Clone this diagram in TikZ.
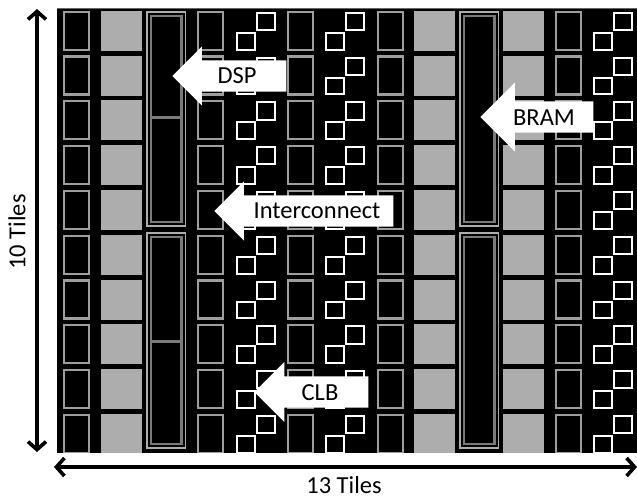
\documentclass[tikz,border=0pt]{standalone}
\usepackage{fontspec}
\setmainfont{Carlito}
\usetikzlibrary{arrows.meta,shapes.arrows}
\tikzset{
  outlinetile/.style={draw=black!38,line width=2.3pt},
  ramtile/.style={fill=black!32},
  switchtile/.style={draw=white,line width=2pt},
  blockout/.style={draw=black!32,line width=1.7pt},
  blockin/.style={draw=black!52,line width=2.2pt},
  blockarrow/.style={single arrow,shape border rotate=180,fill=white,inner sep=0pt,
    text height=31pt,single arrow head extend=14pt,anchor=tip},
  dimarrow/.style={line width=3.6pt,{Straight Barb[length=8pt,width=18pt]}-{Straight Barb[length=8pt,width=18pt]}},
  tilelabel/.style={inner sep=0pt,font=\fontsize{24.5}{27}\selectfont}
}
\begin{document}
\begin{tikzpicture}[x=1pt,y=-1pt]
  \useasboundingbox (0,0) rectangle (637,498);
  \fill[black!60] (56.5,8) rectangle (637,9);
  \fill[black] (56.5,9) rectangle (637,453);
  \foreach \r in {0,...,9}{
     \pgfmathsetmacro{\y}{10.7+44.8*\r}
     % outlined columns
     \foreach \x in {64,198,288,378,556}
        \draw[outlinetile] (\x,\y+1) rectangle (\x+25,\y+39);
     % filled columns
     \foreach \x in {101,414,503}
        \fill[ramtile] (\x,\y) rectangle (\x+40.5,\y+40);
     % pairs of small squares
     \foreach \x in {237,326,594}{
        \draw[switchtile] (\x,\y+22) rectangle (\x+17.5,\y+38.8);
        \draw[switchtile] (\x+20,\y+2) rectangle (\x+37.5,\y+19.3);}
  }
  \fill[white] (56.5,453) rectangle (637,458);
  % tall blocks
  \foreach \x in {146,459}{
     \foreach \a/\b in {12/226,233/448}{
        \draw[blockout] (\x+.8,\a) rectangle (\x+39.5,\b);
        \draw[blockin] (\x+5,\a+4) rectangle (\x+35.5,\b-4);}
  }
  \foreach \m in {117,341}
     \draw[blockin,line width=3pt] (151,\m) -- (181.5,\m);
  % labels on top
  \node[blockarrow,minimum height=114pt,minimum width=58pt] (dsparrow) at (172,76) {};
  \node[blockarrow,minimum height=179pt,minimum width=58pt] (intarrow) at (214,211) {};
  \node[blockarrow,minimum height=113pt,minimum width=69pt,single arrow head extend=19pt] (bramarrow) at (480,117) {};
  \node[blockarrow,minimum height=114pt,minimum width=60pt,text height=30pt] (clbarrow) at (254,392) {};
  \node[tilelabel] (dsplabel) at (237,76) {DSP};
  \node[tilelabel] (intlabel) at (317,211) {Interconnect};
  \node[tilelabel] (bramlabel) at (544,118) {BRAM};
  \node[tilelabel] (clblabel) at (320,392.5) {CLB};
  % tile counts
  \coordinate (vtop) at (37,9);
  \coordinate (vbot) at (37,452);
  \coordinate (hleft) at (54,467);
  \coordinate (hright) at (637,467);
  \draw[dimarrow] (vtop) -- (vbot);
  \draw[dimarrow] (hleft) -- (hright);
  \node[tilelabel,rotate=90] (rowcount) at (17,232) {10 Tiles};
  \node[tilelabel] (colcount) at (344,485) {13 Tiles};
\end{tikzpicture}
\end{document}
